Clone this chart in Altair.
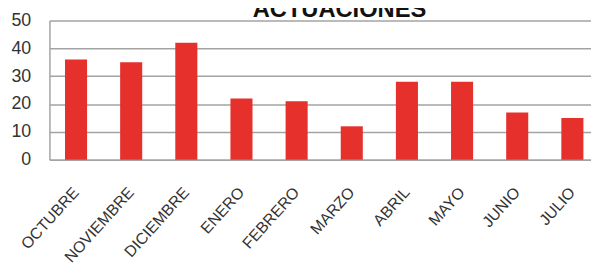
import altair as alt
import pandas as pd

months = ["OCTUBRE", "NOVIEMBRE", "DICIEMBRE", "ENERO", "FEBRERO",
          "MARZO", "ABRIL", "MAYO", "JUNIO", "JULIO"]
values = [36, 35, 42, 22, 21, 12, 28, 28, 17, 15]
y_ticks = [0, 10, 20, 30, 40, 50]
title_text = ["ACTUACIONES"]

df = pd.DataFrame({"mes": months, "actuaciones": values})
tdf = pd.DataFrame({"t": title_text})

FONT = "Liberation Sans"
GRID = "#a3a3a3"

bars = alt.Chart(df).mark_bar(color="#e5302b").encode(
    x=alt.X(
        "mes:N",
        sort=months,
        title=None,
        scale=alt.Scale(paddingInner=0.6, paddingOuter=0.21, align=0.672),
        axis=alt.Axis(
            labelAngle=-48,
            labelFontSize=16,
            labelFont=FONT,
            labelColor="#333333",
            labelAlign="right",
            labelBaseline="middle",
            labelPadding=30,
            labelOffset=0,
            ticks=False,
            domain=True,
            domainColor=GRID,
            domainWidth=1.5,
            grid=False,
        ),
    ),
    y=alt.Y(
        "actuaciones:Q",
        title=None,
        scale=alt.Scale(domain=[0, 50], nice=False),
        axis=alt.Axis(
            values=y_ticks,
            labelFontSize=18,
            labelFont=FONT,
            labelColor="#333333",
            labelPadding=19,
            ticks=False,
            domain=True,
            domainColor=GRID,
            domainWidth=1.5,
            grid=True,
            gridColor=GRID,
            gridWidth=1.5,
        ),
    ),
)

title = alt.Chart(tdf).mark_text(
    font=FONT,
    fontSize=24,
    fontWeight="bold",
    color="#111111",
    align="center",
    baseline="alphabetic",
).encode(
    text="t:N",
    x=alt.value(294),
    y=alt.value(-4),
)

chart = alt.layer(bars, title).properties(
    width=549,
    height=141,
    autosize=alt.AutoSizeParams(type="none"),
    padding={"left": 42, "top": 11, "right": 0, "bottom": 107},
).configure_view(stroke=None)

chart.save("out.html", embed_options={"renderer": "svg", "actions": False})
